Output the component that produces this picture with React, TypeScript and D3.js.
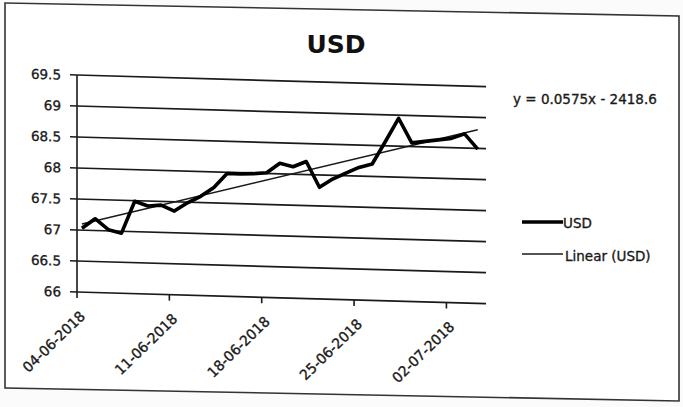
import React, { useEffect } from "react";
import * as d3 from "d3";

// ---- Data ----
const startDateStr = "2018-06-04";
const usdValues = [
  67.03, 67.19, 67.02, 66.97, 67.49, 67.42, 67.44, 67.35, 67.49, 67.6, 67.75,
  67.98, 67.98, 67.99, 68.01, 68.17, 68.12, 68.21, 67.8, 67.94, 68.04, 68.14,
  68.2, 68.57, 68.95, 68.56, 68.59, 68.62, 68.65, 68.73, 68.49,
];
const xTickDates = ["2018-06-04", "2018-06-11", "2018-06-18", "2018-06-25", "2018-07-02"];
const yTickValues = [66, 66.5, 67, 67.5, 68, 68.5, 69, 69.5];
const chartTitle = "USD";
const seriesLabel = "USD";
const trendLabel = "Linear (USD)";
const equationLabel = "y = 0.0575x - 2418.6";

const parse = d3.timeParse("%Y-%m-%d");
const fmt = d3.timeFormat("%d-%m-%Y");
const FONT = "'DejaVu Sans', sans-serif";
const INK = "#1a1a1a";
const textStyle = { stroke: INK, strokeWidth: 0.35 } as const;

export default function App() {
  useEffect(() => {
    document.body.style.margin = "0";
  }, []);

  const W = 683;
  const H = 407;
  const left = 77;
  const right = 486;
  const top = 75;
  const bottom = 292;

  const start = parse(startDateStr) as Date;
  const x = d3
    .scaleTime()
    .domain([start, d3.timeDay.offset(start, 31)])
    .range([left, right]);
  const y = d3.scaleLinear().domain([66, 69.5]).range([bottom, top]);

  const pts = usdValues.map((v, i) => ({
    d: d3.timeHour.offset(d3.timeDay.offset(start, i), 9),
    v,
    i,
  }));

  const line = d3
    .line<{ d: Date; v: number }>()
    .x((p) => x(p.d))
    .y((p) => y(p.v));

  // least squares trendline
  const n = pts.length;
  const mi = d3.mean(pts, (p) => p.i) as number;
  const mv = d3.mean(pts, (p) => p.v) as number;
  const sxy = d3.sum(pts, (p) => (p.i - mi) * (p.v - mv));
  const sxx = d3.sum(pts, (p) => (p.i - mi) * (p.i - mi));
  const slope = sxy / sxx;
  const icpt = mv - slope * mi;
  const trendPts = [pts[0], pts[n - 1]].map((p) => ({ d: p.d, v: icpt + slope * p.i }));

  const skew = `translate(${left},0) skewY(1.64) translate(${-left},0)`;

  return (
    <svg
      width={W}
      height={H}
      style={{ position: "absolute", left: 0, top: 0, background: "#fff" }}
      fontFamily={FONT}
    >
      <rect width={W} height={H} fill="#fbfbfb" />
      {/* frame */}
      <g transform="translate(5,0) skewY(1.1) translate(-5,0)">
        <rect x={5} y={3} width={674} height={385} fill="#fff" stroke="#333" strokeWidth={1.6} />
      </g>

      <g transform={skew}>
        {/* gridlines */}
        {yTickValues.map((t) => (
          <line key={t} x1={left} x2={right} y1={y(t)} y2={y(t)} stroke={INK} strokeWidth={1.7} />
        ))}
        {/* y axis */}
        <line x1={left} x2={left} y1={top} y2={bottom} stroke={INK} strokeWidth={1.6} />
        {yTickValues.map((t) => (
          <g key={"yt" + t}>
            <line x1={left - 7} x2={left} y1={y(t)} y2={y(t)} stroke={INK} strokeWidth={1.6} />
            <text
              x={61}
              y={y(t)}
              textAnchor="end"
              dominantBaseline="central"
              fontSize={13.5}
              fill={INK}
              style={textStyle}
            >
              {String(t)}
            </text>
          </g>
        ))}
        {/* x axis ticks & labels */}
        {xTickDates.map((s) => {
          const dd = parse(s) as Date;
          const xx = x(dd);
          return (
            <g key={s}>
              <line x1={xx} x2={xx} y1={bottom} y2={bottom + 6} stroke={INK} strokeWidth={1.6} />
              <text
                transform={`translate(${xx + 9},${bottom + 25}) rotate(-45)`}
                textAnchor="end"
                fontSize={14}
                fill={INK}
                style={textStyle}
              >
                {fmt(dd)}
              </text>
            </g>
          );
        })}
        {/* trend line */}
        <path d={line(trendPts) as string} fill="none" stroke={INK} strokeWidth={1.5} />
        {/* data line */}
        <path
          d={line(pts) as string}
          fill="none"
          stroke="#000"
          strokeWidth={3.6}
          strokeLinejoin="round"
        />
      </g>

      {/* title */}
      <text x={336} y={53} textAnchor="middle" fontSize={25} fontWeight="bold" fill="#111">
        {chartTitle}
      </text>
      {/* equation */}
      <text x={513} y={104} fontSize={13.5} fill={INK} style={textStyle}>
        {equationLabel}
      </text>
      {/* legend */}
      <line x1={522} x2={563} y1={222} y2={222} stroke="#000" strokeWidth={3.6} />
      <text x={563} y={228} fontSize={13.5} fill={INK} style={textStyle}>
        {seriesLabel}
      </text>
      <line x1={522} x2={563} y1={254} y2={254} stroke={INK} strokeWidth={1.5} />
      <text x={565} y={261} fontSize={13.5} fill={INK} style={textStyle}>
        {trendLabel}
      </text>
    </svg>
  );
}
